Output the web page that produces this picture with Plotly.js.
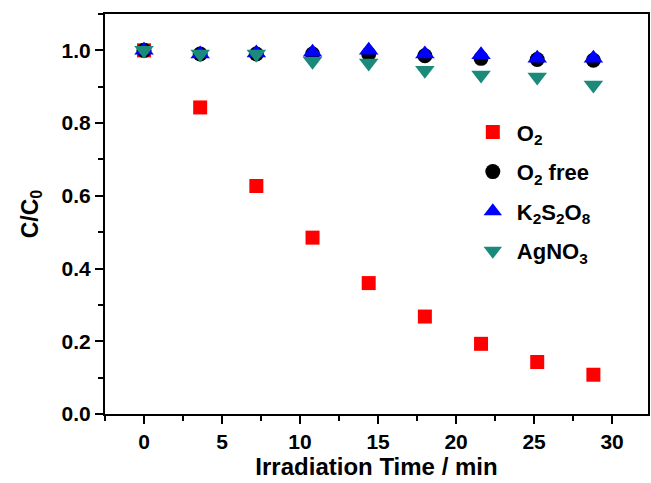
<!DOCTYPE html>
<html>
<head>
<meta charset="utf-8">
<script src="https://cdn.plot.ly/plotly-3.0.1.min.js"></script>
<style>html,body{margin:0;padding:0;background:#fff;}#chart{width:651px;height:483px;}</style>
</head>
<body>
<div id="chart"></div>
<script>
const time = [0, 3.6, 7.2, 10.8, 14.4, 18, 21.6, 25.2, 28.8];
const o2 = [1.0, 0.843, 0.627, 0.485, 0.360, 0.268, 0.193, 0.143, 0.108];
const o2Free = [1.0, 0.99, 0.99, 0.99, 0.99, 0.985, 0.978, 0.975, 0.973];
const k2s2o8 = [1.0, 0.99, 0.993, 0.995, 1.0, 0.99, 0.988, 0.978, 0.978];
const agno3 = [1.0, 0.99, 0.99, 0.97, 0.965, 0.945, 0.932, 0.927, 0.905];
const names = ['<b>O<sub>2</sub></b>', '<b>O<sub>2</sub> free</b>', '<b>K<sub>2</sub>S<sub>2</sub>O<sub>8</sub></b>', '<b>AgNO<sub>3</sub></b>'];
const xTicks = [0, 5, 10, 15, 20, 25, 30];
const yTicks = [0, 0.2, 0.4, 0.6, 0.8, 1.0];

const traces = [
  {x: time, y: o2, name: names[0], mode: 'markers', legendgroup: 'a',
   marker: {symbol: 'square', size: 14, color: '#ff0000'}},
  {x: time, y: o2Free, name: names[1], mode: 'markers', legendgroup: 'b',
   marker: {symbol: 'circle', size: 15, color: '#000000'}},
  {x: time, y: k2s2o8, name: names[2], mode: 'markers', legendgroup: 'c',
   marker: {symbol: 'triangle-up', size: 17, color: '#0000ff'}},
  {x: time, y: agno3, name: names[3], mode: 'markers', legendgroup: 'd',
   marker: {symbol: 'triangle-down', size: 17, color: '#1a8a7a'}}
];

const axisCommon = {
  showline: true, linecolor: '#000', linewidth: 2, mirror: true,
  ticks: 'outside', ticklen: 8, tickwidth: 2, tickcolor: '#000',
  showgrid: false, zeroline: false,
  tickfont: {family: 'Liberation Sans, Arial, sans-serif', size: 21, color: '#000'}
};

const layout = {
  width: 651, height: 483,
  margin: {l: 105, r: 3, t: 14, b: 69},
  paper_bgcolor: '#fff', plot_bgcolor: '#fff',
  font: {family: 'Liberation Sans, Arial, sans-serif', color: '#000'},
  xaxis: Object.assign({}, axisCommon, {
    range: [-2.5, 32.3], tickvals: xTicks, ticktext: xTicks.map(v => '<b>' + v + '</b>'),
    minor: {dtick: 2.5, tick0: 0, ticks: 'outside', ticklen: 5, tickwidth: 2, tickcolor: '#000'},
    title: {text: '<b>Irradiation Time / min</b>', font: {size: 24, color: '#000'}, standoff: 3}
  }),
  yaxis: Object.assign({}, axisCommon, {
    range: [0, 1.1], tickvals: yTicks, ticktext: yTicks.map(v => '<b>' + v.toFixed(1) + '</b>'),
    minor: {dtick: 0.1, tick0: 0, ticks: 'outside', ticklen: 5, tickwidth: 2, tickcolor: '#000'},
    title: {text: '<b>C/C<sub>0</sub></b>', font: {size: 23, color: '#000'}, standoff: 17}
  }),
  legend: {
    x: 0.67, y: 0.757, xanchor: 'left', yanchor: 'top',
    bgcolor: 'rgba(0,0,0,0)', borderwidth: 0,
    font: {size: 22, color: '#000'}, tracegroupgap: 8, itemwidth: 38
  },
  showlegend: true
};

Plotly.newPlot('chart', traces, layout, {displayModeBar: false, staticPlot: true});
</script>
</body>
</html>
